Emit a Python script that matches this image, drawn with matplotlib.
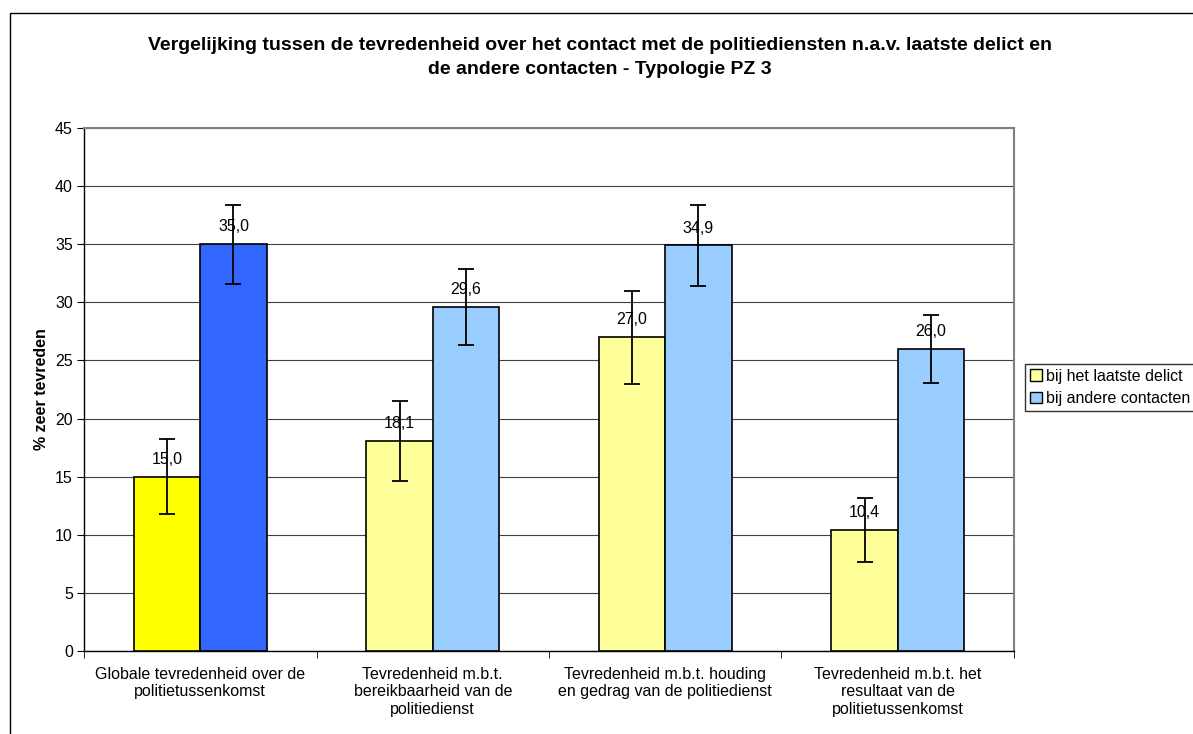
import matplotlib.pyplot as plt
from matplotlib.patches import Rectangle, Patch
import numpy as np

plt.rcParams['font.family'] = ['Liberation Sans', 'DejaVu Sans']

# data
categories = ['Globale tevredenheid over de\npolitietussenkomst',
              'Tevredenheid m.b.t.\nbereikbaarheid van de\npolitiedienst',
              'Tevredenheid m.b.t. houding\nen gedrag van de politiedienst',
              'Tevredenheid m.b.t. het\nresultaat van de\npolitietussenkomst']
delict = [15.0, 18.1, 27.0, 10.4]
delict_err = [3.2, 3.45, 4.0, 2.75]
andere = [35.0, 29.6, 34.9, 26.0]
andere_err = [3.4, 3.3, 3.5, 2.9]
series_names = ['bij het laatste delict', 'bij andere contacten']
title_lines = ['Vergelijking tussen de tevredenheid over het contact met de politiediensten n.a.v. laatste delict en',
               'de andere contacten - Typologie PZ 3']

yellow_colors = ['#FFFF00', '#FFFF99', '#FFFF99', '#FFFF99']
blue_colors = ['#3366FF', '#99CCFF', '#99CCFF', '#99CCFF']

fs = 11.5

fig = plt.figure(figsize=(11.93, 7.34), dpi=100)
# chart border
fig.patches.append(Rectangle((10 / 1193, -0.01), 1.0, (734 - 13) / 734 + 0.01,
                             transform=fig.transFigure, fill=False,
                             edgecolor='black', linewidth=1))
ax = fig.add_axes([84 / 1193, (734 - 651) / 734, (1014 - 84) / 1193, (651 - 128) / 734])

x = np.arange(len(categories))
w = 1 / 3.5
ekw = dict(ecolor='black', elinewidth=1.3, capsize=5.5, capthick=1.3)
ax.bar(x - w / 2, delict, w, color=yellow_colors, edgecolor='black', linewidth=1.2,
       yerr=delict_err, error_kw=ekw, zorder=3)
ax.bar(x + w / 2, andere, w, color=blue_colors, edgecolor='black', linewidth=1.2,
       yerr=andere_err, error_kw=ekw, zorder=3)

for xs, vals in [(x - w / 2, delict), (x + w / 2, andere)]:
    for xi, v in zip(xs, vals):
        ax.annotate(f'{v:.1f}'.replace('.', ','), (xi, v), xytext=(0, 7),
                    textcoords='offset points', ha='center', va='bottom',
                    fontsize=fs, zorder=4)

ax.set_xlim(-0.5, len(categories) - 0.5)
ax.set_ylim(0, 45)
ax.set_yticks(np.arange(0, 46, 5))
ax.yaxis.grid(True, color='#404040', linewidth=0.8, zorder=0)
ax.set_axisbelow(True)

ax.set_xticks(x)
ax.set_xticklabels(categories, fontsize=fs, linespacing=1.2)
ax.set_xticks(np.arange(-0.5, len(categories)), minor=True)
ax.tick_params(axis='x', which='major', length=0, pad=11.5)
ax.tick_params(axis='x', which='minor', length=5, direction='out', color='black')
ax.tick_params(axis='y', length=5, direction='out', labelsize=fs, pad=3)

for s in ['top', 'right']:
    ax.spines[s].set_color('#808080')
    ax.spines[s].set_linewidth(1.5)
for s in ['left', 'bottom']:
    ax.spines[s].set_color('black')
    ax.spines[s].set_linewidth(1)

ax.set_ylabel('% zeer tevreden', fontsize=fs, fontweight='bold', labelpad=4)

for line, ypx in zip(title_lines, [45, 70]):
    fig.text(600 / 1193, 1 - ypx / 734, line, ha='center', va='center',
             fontsize=14, fontweight='bold')

handles = [Patch(facecolor='#FFFF99', edgecolor='black'), Patch(facecolor='#99CCFF', edgecolor='black')]
leg = fig.legend(handles, series_names, loc='upper left',
                 bbox_to_anchor=(1025 / 1193, 1 - 364 / 734), fontsize=11.5,
                 frameon=True, fancybox=False, handlelength=0.75, handleheight=0.75,
                 handletextpad=0.25, borderpad=0.3, labelspacing=0.45, borderaxespad=0)
leg.get_frame().set_edgecolor('black')
leg.get_frame().set_linewidth(1)

fig.savefig('out.png', dpi=100)
